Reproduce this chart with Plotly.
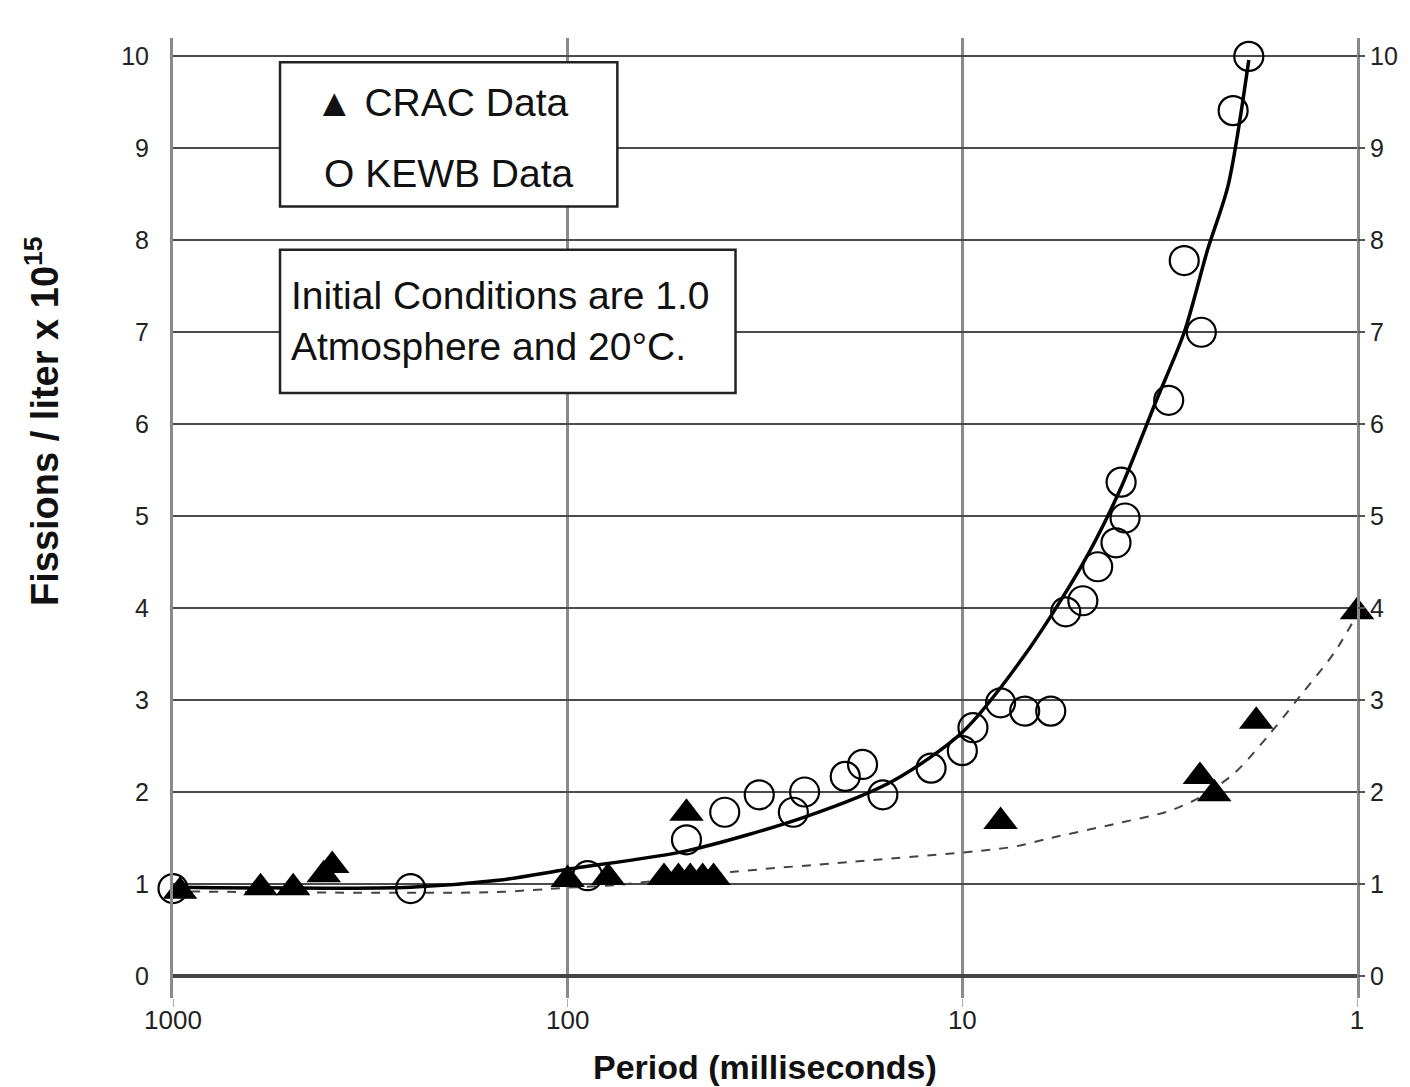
import plotly.graph_objects as go

# KEWB measurements (open circles)
kewb_period = [1000, 250, 89, 50, 40, 32.7, 26.8, 25.1, 19.8, 17.9, 15.9, 12.0, 10.0, 9.4,
               8.0, 6.95, 5.97, 5.47, 4.95, 4.54, 4.08, 3.96, 3.87, 3.0, 2.74, 2.48, 2.06, 1.88]
kewb_fissions = [0.95, 0.95, 1.09, 1.48, 1.78, 1.97, 1.78, 2.0, 2.17, 2.30, 1.97, 2.26, 2.45, 2.70,
                 2.97, 2.88, 2.88, 3.96, 4.08, 4.45, 4.71, 5.37, 4.98, 6.26, 7.78, 7.0, 9.41, 10.0]

# CRAC measurements (filled triangles)
crac_period = [960, 600, 496, 415, 395, 100, 79, 57, 52.4, 48.9, 45.5, 42.7, 50, 8.0, 2.5, 2.3, 1.8, 1.0]
crac_fissions = [0.92, 0.96, 0.96, 1.1, 1.2, 1.05, 1.07, 1.07, 1.07, 1.07, 1.07, 1.07, 1.77, 1.68,
                 2.17, 1.98, 2.77, 3.96]

# fitted curves
kewb_fit_period = [1000, 250, 150, 100, 50, 25, 15, 10, 7, 5, 4, 3.23, 2.74, 2.39, 2.12, 1.88]
kewb_fit_fissions = [0.965, 0.965, 1.04, 1.16, 1.36, 1.73, 2.12, 2.65, 3.47, 4.45, 5.27, 6.25, 7.0,
                     7.9, 8.6, 9.96]

crac_fit_period = [1000, 157, 100, 74.8, 38.6, 19.3, 7.53, 5.97, 4.04, 3.01, 2.53, 2.05, 1.68, 1.39,
                   1.14, 1.0]
crac_fit_fissions = [0.92, 0.91, 0.96, 0.99, 1.13, 1.24, 1.40, 1.50, 1.66, 1.79, 1.93, 2.20, 2.61,
                     3.05, 3.52, 3.93]

x_tick_vals = [1000, 100, 10, 1]
x_tick_text = ['1000', '100', '10', '1']
y_tick_vals = list(range(0, 11))

FONT = 'Liberation Sans, Arial, sans-serif'

fig = go.Figure()

fig.add_trace(go.Scatter(
    x=crac_fit_period, y=crac_fit_fissions, mode='lines',
    line={'color': '#444', 'width': 2, 'dash': 'dash', 'shape': 'spline', 'smoothing': 0.8},
    showlegend=False, hoverinfo='skip'))

fig.add_trace(go.Scatter(
    x=kewb_fit_period, y=kewb_fit_fissions, mode='lines',
    line={'color': 'black', 'width': 3.5, 'shape': 'spline', 'smoothing': 0.8},
    showlegend=False, hoverinfo='skip'))

fig.add_trace(go.Scatter(
    x=crac_period, y=crac_fissions, mode='markers', name='CRAC Data', cliponaxis=False,
    marker={'symbol': 'triangle-up', 'size': 30, 'color': 'black'},
    showlegend=False))

fig.add_trace(go.Scatter(
    x=kewb_period, y=kewb_fissions, mode='markers', name='KEWB Data', cliponaxis=False,
    marker={'symbol': 'circle-open', 'size': 29, 'color': 'black', 'line': {'width': 2.2}},
    showlegend=False))

# right-hand axis copy
fig.add_trace(go.Scatter(
    x=[1], y=[0], yaxis='y2', mode='markers', marker={'opacity': 0},
    showlegend=False, hoverinfo='skip'))

# legend boxes
fig.add_shape(type='rect', xref='paper', yref='paper', x0=0.0904, x1=0.3753, y0=0.8246, y1=0.9748,
              line={'color': '#222', 'width': 2.5}, fillcolor='white', layer='above')
fig.add_shape(type='rect', xref='paper', yref='paper', x0=0.0904, x1=0.4751, y0=0.6303, y1=0.7794,
              line={'color': '#222', 'width': 2.5}, fillcolor='white', layer='above')

legend_font = {'family': FONT, 'size': 39, 'color': '#111'}
fig.add_annotation(text='▲ CRAC Data', xref='paper', yref='paper', x=0.1185, y=0.9328,
                   xanchor='left', yanchor='middle', showarrow=False, font=legend_font)
fig.add_annotation(text='O KEWB Data', xref='paper', yref='paper', x=0.1255, y=0.8592,
                   xanchor='left', yanchor='middle', showarrow=False, font=legend_font)
fig.add_annotation(text='Initial Conditions are 1.0<br>Atmosphere and 20°C.', xref='paper', yref='paper',
                   x=0.098, y=0.705, xanchor='left', yanchor='middle', align='left', showarrow=False,
                   font=legend_font)

# axis titles
fig.add_annotation(text='<b>Period (milliseconds)</b>', xref='paper', yref='paper', x=0.5, y=-0.072,
                   xanchor='center', yanchor='middle', showarrow=False,
                   font={'family': FONT, 'size': 34, 'color': '#111'})
fig.add_annotation(text='<b>Fissions / liter x 10<sup>15</sup></b>', xref='paper', yref='paper',
                   x=-0.1107, y=0.601, xanchor='center', yanchor='middle', textangle=-90,
                   showarrow=False, font={'family': FONT, 'size': 38, 'color': '#111'})

# page body adds an 8px margin, so the figure is drawn 8px smaller
fig.update_layout(
    width=1402, height=1079,
    margin={'l': 165, 'r': 46, 't': 30, 'b': 89},
    paper_bgcolor='white', plot_bgcolor='white',
    font={'family': FONT, 'size': 25, 'color': '#222'},
    xaxis={'type': 'log', 'range': [3, 0], 'tickvals': x_tick_vals, 'ticktext': x_tick_text,
           'showgrid': True, 'gridcolor': '#8a8a8a', 'gridwidth': 2.5, 'zeroline': False,
           'showline': False, 'ticks': 'outside', 'ticklen': 8, 'tickcolor': '#aaa',
           'tickfont': {'size': 26}, 'ticklabelstandoff': -9},
    yaxis={'range': [-0.24, 10.2], 'tickvals': y_tick_vals, 'showgrid': True,
           'gridcolor': '#4a4a4a', 'gridwidth': 2, 'zeroline': True, 'zerolinecolor': '#444',
           'zerolinewidth': 3.5, 'showline': True, 'linecolor': '#8a8a8a', 'linewidth': 3,
           'mirror': True, 'ticks': '', 'ticklabelstandoff': 16},
    yaxis2={'range': [-0.24, 10.2], 'tickvals': y_tick_vals, 'overlaying': 'y', 'side': 'right',
            'showgrid': False, 'zeroline': False, 'ticks': 'outside', 'ticklen': 7,
            'tickcolor': '#555', 'tickwidth': 2},
)

fig.write_html('out.html')
